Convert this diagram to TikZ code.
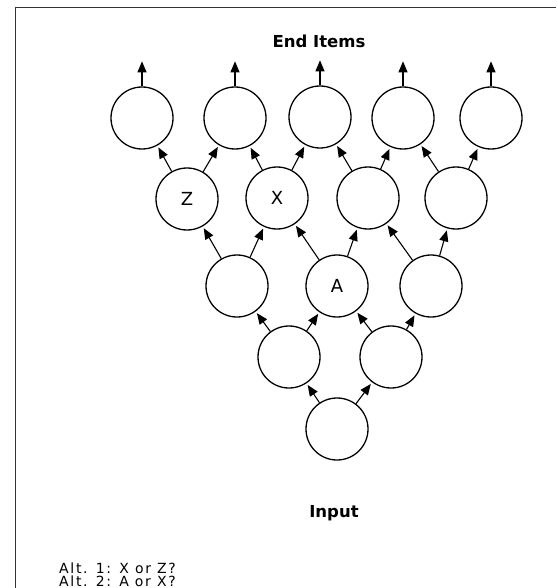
\documentclass[tikz,border=0pt]{standalone}
\usepackage{fontspec}
\setmainfont{DejaVu Sans}
\usetikzlibrary{arrows.meta}
\begin{document}
\begin{tikzpicture}[x=1pt,y=-1pt,
  item/.style={circle,draw=black,line width=1.3pt,fill=white,minimum size=62pt,inner sep=0pt,font=\fontsize{18}{20}\selectfont},
  flow/.style={line width=1.1pt,-{Triangle[length=11pt,width=9pt]},shorten >=2pt},
  heading/.style={font=\bfseries\fontsize{16.5}{18}\selectfont},
  note/.style={font=\fontsize{14}{15}\selectfont\addfontfeature{LetterSpace=12},anchor=base west,inner sep=0pt}]
\useasboundingbox (0,0) rectangle (556,588);
% frame
\draw[line width=1pt,black!80] (556,8) -- (15,8) -- (15,588);

% headings
\node[heading] (end) at (319,41) {End Items};
\node[heading] (input) at (334,513) {Input};

% row 1 (end items)
\node[item] (a1) at (142,118) {};
\node[item] (a2) at (235,118) {};
\node[item] (a3) at (320,117) {};
\node[item] (a4) at (403,118) {};
\node[item] (a5) at (491,118) {};
% row 2
\node[item] (b1) at (187,199) {Z};
\node[item] (b2) at (277,198) {X};
\node[item] (b3) at (368,198) {};
\node[item] (b4) at (456,198) {};
% row 3
\node[item] (c1) at (237,286) {};
\node[item] (c2) at (337,286) {A};
\node[item] (c3) at (431,286) {};
% row 4
\node[item] (d1) at (289,357) {};
\node[item] (d2) at (391,357) {};
% row 5 (input)
\node[item] (e1) at (337,429) {};

% outputs of the end items
\foreach \n in {a1,a2,a3,a4,a5}{
  \coordinate (\n-out) at ([yshift=25pt]\n.north);
  \draw[flow,shorten >=0pt] (\n.north) -- (\n-out);
}

% connections between levels
\draw[flow] (e1) -- (d1);
\draw[flow] (e1) -- (d2);
\draw[flow] (d1) -- (c1);
\draw[flow] (d1) -- (c2);
\draw[flow] (d2) -- (c2);
\draw[flow] (d2) -- (c3);
\draw[flow] (c1) -- (b1);
\draw[flow] (c1) -- (b2);
\draw[flow] (c2) -- (b2);
\draw[flow] (c2) -- (b3);
\draw[flow] (c3) -- (b3);
\draw[flow] (c3) -- (b4);
\draw[flow] (b1) -- (a1);
\draw[flow] (b1) -- (a2);
\draw[flow] (b2) -- (a2);
\draw[flow] (b2) -- (a3);
\draw[flow] (b3) -- (a3);
\draw[flow] (b3) -- (a4);
\draw[flow] (b4) -- (a4);
\draw[flow] (b4) -- (a5);

% questions
\node[note] (alt1) at (59,573) {Alt. 1: X or Z?};
\node[note] (alt2) at (59,586) {Alt. 2: A or X?};
\end{tikzpicture}
\end{document}
